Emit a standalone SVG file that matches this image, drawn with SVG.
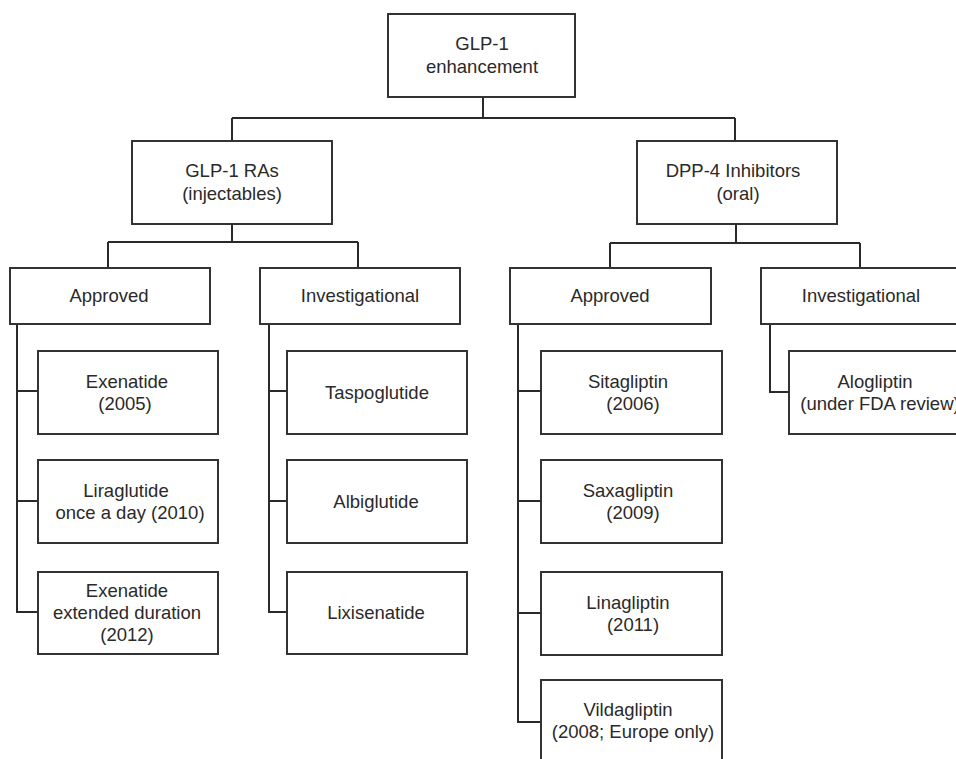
<svg xmlns="http://www.w3.org/2000/svg" width="956" height="759" viewBox="0 0 956 759">
<style>
  .box { fill: #ffffff; stroke: #333333; stroke-width: 2; }
  .conn { fill: none; stroke: #2a2a2a; stroke-width: 2; }
  text { font-family: "Liberation Sans", Arial, sans-serif; font-size: 18.5px; fill: #2a2a2a; text-anchor: middle; }
</style>
<rect width="956" height="759" fill="#ffffff"/>
<g id="connectors">
  <path class="conn" d="M483 97 V118 M232 118 H735 M232 118 V141 M735 118 V141"/>
  <path class="conn" d="M232 224 V242 M108 242 H358 M108 242 V268 M358 242 V268"/>
  <path class="conn" d="M736 224 V243 M610 243 H860 M610 243 V268 M860 243 V268"/>
  <path class="conn" d="M17 324 V612 H38 M17 391 H38 M17 501 H38"/>
  <path class="conn" d="M269 324 V612 H287 M269 391 H287 M269 501 H287"/>
  <path class="conn" d="M518 324 V722 H541 M518 391 H541 M518 501 H541 M518 613 H541"/>
  <path class="conn" d="M770 324 V392 H789"/>
</g>
<g id="root">
  <rect class="box" x="388" y="14" width="187" height="83"/>
  <text x="482" y="50">GLP-1</text>
  <text x="482" y="73">enhancement</text>
</g>
<g id="glp1-ras">
  <rect class="box" x="132" y="141" width="200" height="83"/>
  <text x="232" y="177">GLP-1 RAs</text>
  <text x="232" y="200">(injectables)</text>
</g>
<g id="dpp4">
  <rect class="box" x="637" y="141" width="200" height="83"/>
  <text x="733" y="177">DPP-4 Inhibitors</text>
  <text x="738" y="200">(oral)</text>
</g>
<g id="glp1-approved">
  <rect class="box" x="10" y="268" width="200" height="56"/>
  <text x="109" y="302">Approved</text>
</g>
<g id="glp1-investigational">
  <rect class="box" x="260" y="268" width="200" height="56"/>
  <text x="360" y="302">Investigational</text>
</g>
<g id="dpp4-approved">
  <rect class="box" x="510" y="268" width="201" height="56"/>
  <text x="610" y="302">Approved</text>
</g>
<g id="dpp4-investigational">
  <rect class="box" x="761" y="268" width="200" height="56"/>
  <text x="861" y="302">Investigational</text>
</g>
<g id="exenatide">
  <rect class="box" x="38" y="351" width="180" height="83"/>
  <text x="127" y="388">Exenatide</text>
  <text x="125" y="410">(2005)</text>
</g>
<g id="liraglutide">
  <rect class="box" x="38" y="460" width="180" height="83"/>
  <text x="126" y="497">Liraglutide</text>
  <text x="130" y="519">once a day (2010)</text>
</g>
<g id="exenatide-ed">
  <rect class="box" x="38" y="572" width="180" height="82"/>
  <text x="127" y="597">Exenatide</text>
  <text x="127" y="619">extended duration</text>
  <text x="127" y="641">(2012)</text>
</g>
<g id="taspoglutide">
  <rect class="box" x="287" y="351" width="180" height="83"/>
  <text x="377" y="399">Taspoglutide</text>
</g>
<g id="albiglutide">
  <rect class="box" x="287" y="460" width="180" height="83"/>
  <text x="376" y="508">Albiglutide</text>
</g>
<g id="lixisenatide">
  <rect class="box" x="287" y="572" width="180" height="82"/>
  <text x="376" y="619">Lixisenatide</text>
</g>
<g id="sitagliptin">
  <rect class="box" x="541" y="351" width="181" height="83"/>
  <text x="628" y="388">Sitagliptin</text>
  <text x="633" y="410">(2006)</text>
</g>
<g id="saxagliptin">
  <rect class="box" x="541" y="460" width="181" height="83"/>
  <text x="628" y="497">Saxagliptin</text>
  <text x="633" y="519">(2009)</text>
</g>
<g id="linagliptin">
  <rect class="box" x="541" y="572" width="181" height="83"/>
  <text x="628" y="609">Linagliptin</text>
  <text x="633" y="631">(2011)</text>
</g>
<g id="vildagliptin">
  <rect class="box" x="541" y="680" width="181" height="84"/>
  <text x="628" y="716">Vildagliptin</text>
  <text x="633" y="738">(2008; Europe only)</text>
</g>
<g id="alogliptin">
  <rect class="box" x="789" y="351" width="172" height="83"/>
  <text x="875" y="388">Alogliptin</text>
  <text x="880" y="410">(under FDA review)</text>
</g>
</svg>
